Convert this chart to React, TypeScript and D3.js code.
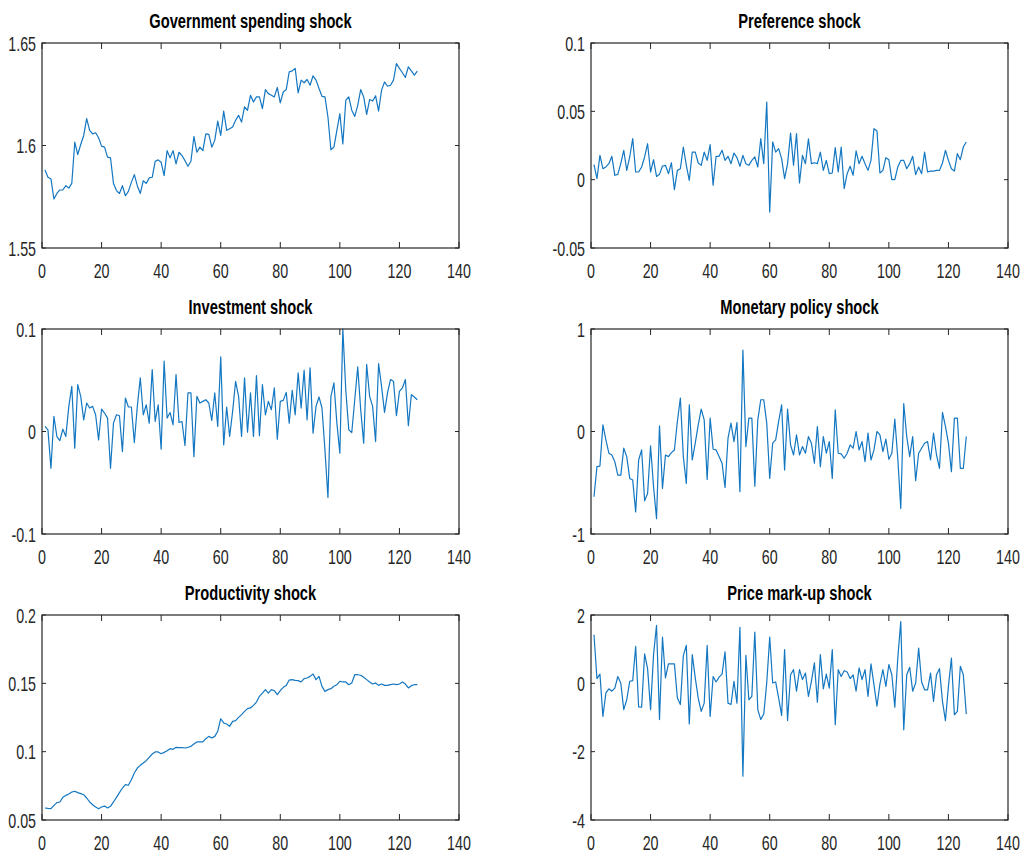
import React from "react";
import * as d3 from "d3";

// Smoothed shock series, periods 1..126
const govSpending = [
  1.5881, 1.5845, 1.5837, 1.5739, 1.5766, 1.5783, 1.5783, 1.5804, 1.5792, 1.5815,
  1.6016, 1.5956, 1.6005, 1.6049, 1.6131, 1.6074, 1.6057, 1.6062, 1.6038, 1.5997,
  1.5992, 1.5943, 1.594, 1.5815, 1.578, 1.5766, 1.5804, 1.5755, 1.5776, 1.582,
  1.5858, 1.5804, 1.5766, 1.5828, 1.5815, 1.5842, 1.5845, 1.5923, 1.593, 1.5918,
  1.5853, 1.5975, 1.594, 1.5975, 1.591, 1.5967, 1.5951, 1.5926, 1.5899, 1.5923,
  1.6044, 1.5967, 1.5992, 1.5975, 1.6057, 1.6054, 1.5992, 1.6025, 1.6119, 1.6049,
  1.6168, 1.6074, 1.6082, 1.609, 1.6123, 1.6147, 1.6114, 1.6188, 1.6172, 1.6245,
  1.6212, 1.6237, 1.6237, 1.618, 1.6273, 1.6253, 1.6245, 1.6237, 1.6283, 1.6208,
  1.6261, 1.6273, 1.6359, 1.6364, 1.6376, 1.6257, 1.6319, 1.6306, 1.6322, 1.6294,
  1.634, 1.6319, 1.6278, 1.624, 1.6237, 1.6139, 1.5979, 1.5992, 1.6074, 1.6155,
  1.6008, 1.6221, 1.6237, 1.6172, 1.6142, 1.6196, 1.6273, 1.6237, 1.6152, 1.6224,
  1.6217, 1.6242, 1.6168, 1.627, 1.631, 1.6289, 1.6294, 1.6319, 1.64, 1.6376,
  1.6355, 1.6332, 1.6384, 1.6364, 1.6343, 1.6363,
];

const preference = [
  0.011, 0.0007, 0.0178, 0.008, 0.0093, 0.0117, 0.0171, 0.0032, 0.0039, 0.0117,
  0.0215, 0.0068, 0.0166, 0.03, 0.0056, 0.0056, 0.0093, 0.0166, 0.0263, 0.0056,
  0.0146, 0.0024, 0.0039, 0.01, 0.0105, 0.0044, 0.0124, -0.0073, 0.0068, 0.008,
  0.0239, 0.0105, -0.0005, 0.0202, 0.0202, 0.0122, 0.0105, 0.0202, 0.0141, 0.0256,
  -0.0041, 0.0171, 0.0171, 0.0215, 0.0141, 0.0171, 0.0117, 0.0195, 0.0161, 0.0098,
  0.0178, 0.0117, 0.0105, 0.0141, 0.0166, 0.0093, 0.03, 0.0117, 0.0568, -0.0237,
  0.0276, 0.0202, 0.0227, 0.0154, 0.0007, 0.0117, 0.0341, 0.0105, 0.0337, -0.0024,
  0.0178, 0.0117, 0.0299, 0.0117, 0.0124, 0.0117, 0.0202, 0.0068, 0.0141, 0.0044,
  0.0049, 0.0234, 0.0056, 0.0239, -0.0066, 0.0044, 0.0098, 0.0032, 0.021, 0.0117,
  0.0171, 0.0117, 0.0068, 0.0141, 0.0373, 0.0356, 0.0049, 0.0068, 0.0161, 0.0146,
  0.0, 0.0, 0.0093, 0.0141, 0.0141, 0.008, 0.0117, 0.0171, 0.0037, 0.0093,
  0.0044, 0.0202, 0.0056, 0.0063, 0.0063, 0.0068, 0.0068, 0.0122, 0.0215, 0.0141,
  0.008, 0.0063, 0.019, 0.0146, 0.0239, 0.0276,
];

const investment = [
  0.0049, 0.0016, -0.0359, 0.0147, -0.0049, -0.0088, 0.0023, -0.0049, 0.0245, 0.0441,
  -0.0163, 0.0458, 0.0343, 0.0114, 0.0278, 0.0229, 0.0245, 0.0163, -0.0082, 0.0219,
  0.018, 0.0131, -0.0359, 0.0082, 0.0163, 0.0154, -0.0196, 0.0327, 0.0239, 0.0239,
  -0.0108, 0.0245, 0.0523, 0.0163, 0.0261, 0.0082, 0.0605, 0.0098, 0.0261, -0.0173,
  0.0686, 0.0131, 0.0186, 0.0065, 0.0556, 0.0088, 0.0098, -0.0137, 0.0376, 0.0376,
  -0.0245, 0.0343, 0.0278, 0.0294, 0.031, 0.0278, 0.0108, 0.0376, 0.0049, 0.0729,
  -0.0131, 0.0239, -0.0049, 0.0196, 0.049, 0.0343, -0.0049, 0.0523, -0.0007, 0.0376,
  -0.0049, 0.0546, -0.0042, 0.0458, 0.0163, 0.0294, 0.0212, 0.0425, -0.0075, 0.0294,
  0.0304, 0.0382, 0.0082, 0.0402, 0.0163, 0.0572, 0.0229, 0.0598, 0.0114, 0.0621,
  -0.0016, 0.0245, 0.0337, 0.0229, -0.018, -0.0644, 0.0343, 0.0474, 0.0082, -0.0212,
  0.1, 0.04, 0.0016, -0.001, 0.031, 0.0631, 0.0212, -0.0114, 0.0654, 0.0343,
  0.0245, -0.0098, 0.0663, 0.0441, 0.0186, 0.0376, 0.0507, 0.049, 0.0154, 0.0392,
  0.0425, 0.0507, 0.0056, 0.0359, 0.0337, 0.031,
];

const monetary = [
  -0.637, -0.343, -0.337, 0.065, -0.082, -0.212, -0.229, -0.294, -0.425, -0.425,
  -0.163, -0.245, -0.458, -0.474, -0.784, -0.278, -0.18, -0.676, -0.605, -0.141,
  -0.539, -0.85, 0.056, -0.556, -0.229, -0.245, -0.206, -0.18, 0.098, 0.327,
  -0.245, -0.507, 0.261, -0.278, -0.114, 0.065, 0.219, 0.114, -0.467, 0.131,
  -0.173, -0.18, -0.245, -0.31, -0.546, -0.065, 0.082, -0.098, 0.088, -0.588,
  0.794, -0.147, 0.131, 0.131, -0.533, 0.114, 0.31, 0.31, 0.082, -0.458,
  -0.114, -0.082, 0.098, 0.261, -0.376, 0.219, -0.131, -0.229, -0.033, -0.229,
  -0.147, -0.212, -0.049, -0.114, -0.31, 0.049, -0.343, -0.049, -0.212, -0.098,
  -0.458, 0.212, -0.212, -0.219, -0.261, -0.212, -0.131, -0.163, 0.0, -0.18,
  -0.098, -0.294, -0.016, -0.278, -0.18, 0.0, -0.033, -0.196, -0.075, -0.271,
  -0.212, 0.121, -0.261, -0.752, 0.271, -0.049, -0.245, -0.049, -0.48, -0.212,
  -0.163, -0.114, -0.098, -0.278, -0.016, -0.229, -0.359, 0.186, 0.049, -0.114,
  -0.392, 0.131, 0.131, -0.359, -0.359, -0.049,
];

const productivity = [
  0.0588, 0.0585, 0.0583, 0.0607, 0.0627, 0.0632, 0.0666, 0.068, 0.069, 0.0705,
  0.071, 0.07, 0.0693, 0.0685, 0.0661, 0.0632, 0.0612, 0.0595, 0.0583, 0.0595,
  0.0602, 0.0588, 0.06, 0.0632, 0.0666, 0.07, 0.0734, 0.0759, 0.0754, 0.0795,
  0.0844, 0.088, 0.09, 0.0917, 0.0934, 0.0959, 0.0983, 0.0998, 0.0998, 0.0985,
  0.0995, 0.1007, 0.1022, 0.1017, 0.1032, 0.1029, 0.1029, 0.1027, 0.1032, 0.1039,
  0.1056, 0.1071, 0.1071, 0.1071, 0.1095, 0.1112, 0.11, 0.1112, 0.1149, 0.1241,
  0.121, 0.1202, 0.1185, 0.1222, 0.1227, 0.1251, 0.1271, 0.1295, 0.1315, 0.132,
  0.1339, 0.1363, 0.1405, 0.1429, 0.1454, 0.1429, 0.1454, 0.1446, 0.1417, 0.1446,
  0.1471, 0.1485, 0.1524, 0.1527, 0.1522, 0.152, 0.151, 0.1534, 0.1539, 0.1551,
  0.1568, 0.1527, 0.1551, 0.1478, 0.1441, 0.1454, 0.1461, 0.1478, 0.149, 0.1515,
  0.151, 0.151, 0.149, 0.1502, 0.1563, 0.1563, 0.1559, 0.1544, 0.1527, 0.151,
  0.1495, 0.1502, 0.1485, 0.1495, 0.1485, 0.1485, 0.149, 0.1495, 0.149, 0.1495,
  0.151, 0.1495, 0.1466, 0.1483, 0.149, 0.149,
];

const priceMarkup = [
  1.42, 0.14, 0.27, -0.97, -0.28, -0.16, -0.23, -0.14, 0.2, 0.01,
  -0.77, -0.48, 0.06, 0.08, 1.08, -0.69, -0.7, 0.86, 0.43, -0.77,
  0.84, 1.7, -1.06, 1.35, 0.16, 0.57, 0.57, 0.57, -0.43, -0.62,
  0.81, 1.11, -1.19, 0.84, 0.16, -0.43, -0.82, -0.58, 1.11, -0.97,
  0.2, 0.04, 0.18, 0.27, 0.92, -0.58, -0.62, 0.06, -0.58, 1.64,
  -2.72, 0.82, -0.48, -0.38, 1.5, -0.77, -1.06, -0.9, 0.01, 1.35,
  0.01, 0.04, -0.43, -0.94, 0.99, -1.09, 0.25, 0.4, -0.23, 0.4,
  0.11, 0.3, -0.38, 0.06, 0.6, -0.55, 0.84, -0.16, 0.27, -0.14,
  0.99, -1.21, 0.4, 0.2, 0.37, 0.33, 0.14, 0.25, -0.23, 0.45,
  0.11, 0.4, -0.38, 0.57, -0.04, -0.67, -0.02, 0.4, -0.09, 0.55,
  0.25, -0.7, 0.74, 1.81, -1.36, 0.25, 0.47, -0.23, 0.01, 1.03,
  0.04, -0.19, -0.19, 0.3, -0.53, 0.25, 0.43, -0.53, -1.09, -0.09,
  0.74, -0.92, -0.82, 0.5, 0.25, -0.9,
];

const xTicks = [0, 20, 40, 60, 80, 100, 120, 140];
const govTicks = [1.55, 1.6, 1.65];
const prefTicks = [-0.05, 0, 0.05, 0.1];
const invTicks = [-0.1, 0, 0.1];
const monTicks = [-1, 0, 1];
const prodTicks = [0.05, 0.1, 0.15, 0.2];
const markupTicks = [-4, -2, 0, 2];

const titles = [
  "Government spending shock",
  "Preference shock",
  "Investment shock",
  "Monetary policy shock",
  "Productivity shock",
  "Price mark-up shock",
];

const INK = "#262626";
const LINE = "#1477c2";
const FONT = "'Liberation Sans', Arial, Helvetica, sans-serif";
const SQUEEZE = 0.68;

type PanelProps = {
  title: string;
  values: number[];
  yTicks: number[];
  left: number;
  top: number;
  width: number;
  height: number;
};

function Panel({ title, values, yTicks, left, top, width, height }: PanelProps) {
  const x = d3.scaleLinear().domain([0, 140]).range([left, left + width]);
  const y = d3
    .scaleLinear()
    .domain([yTicks[0], yTicks[yTicks.length - 1]])
    .range([top + height, top]);
  const line = d3
    .line<number>()
    .x((_, i) => x(i + 1))
    .y((d) => y(d));
  const bottom = top + height;
  const right = left + width;
  const xTickLen = 6;
  const yTickLen = 4;

  return (
    <g>
      <path d={line(values) ?? ""} fill="none" stroke={LINE} strokeWidth={1.2} strokeLinejoin="round" />
      {xTicks.map((t) => (
        <g key={`x${t}`}>
          <line x1={x(t)} x2={x(t)} y1={bottom} y2={bottom - xTickLen} stroke={INK} strokeWidth={1} />
          <line x1={x(t)} x2={x(t)} y1={top} y2={top + xTickLen} stroke={INK} strokeWidth={1} />
          <text
            transform={`translate(${x(t)},${bottom + 30}) scale(${SQUEEZE},1)`}
            textAnchor="middle"
            fontSize={21}
            fill={INK}
          >
            {String(t)}
          </text>
        </g>
      ))}
      {yTicks.map((t) => (
        <g key={`y${t}`}>
          <line x1={left} x2={left + yTickLen} y1={y(t)} y2={y(t)} stroke={INK} strokeWidth={1} />
          <line x1={right} x2={right - yTickLen} y1={y(t)} y2={y(t)} stroke={INK} strokeWidth={1} />
          <text
            transform={`translate(${left - 6},${y(t) + 7.5}) scale(${SQUEEZE},1)`}
            textAnchor="end"
            fontSize={21}
            fill={INK}
          >
            {String(t)}
          </text>
        </g>
      ))}
      <rect x={left} y={top} width={width} height={height} fill="none" stroke={INK} strokeWidth={1.2} />
      <text
        transform={`translate(${left + width / 2},${top - 15}) scale(0.7,1)`}
        textAnchor="middle"
        fontSize={21}
        fontWeight="bold"
        fill="#000"
      >
        {title}
      </text>
    </g>
  );
}

export default function App() {
  const cols = [42, 591];
  const rows = [43, 329, 615];
  const w = 417;
  const h = 205;
  const series = [govSpending, preference, investment, monetary, productivity, priceMarkup];
  const ticks = [govTicks, prefTicks, invTicks, monTicks, prodTicks, markupTicks];

  return (
    <svg
      width={1025}
      height={857}
      style={{ position: "absolute", left: 0, top: 0, background: "#fff", fontFamily: FONT }}
    >
      <rect width={1025} height={857} fill="#fff" />
      {series.map((s, i) => (
        <Panel
          key={titles[i]}
          title={titles[i]}
          values={s}
          yTicks={ticks[i]}
          left={cols[i % 2]}
          top={rows[Math.floor(i / 2)]}
          width={w}
          height={h}
        />
      ))}
    </svg>
  );
}
